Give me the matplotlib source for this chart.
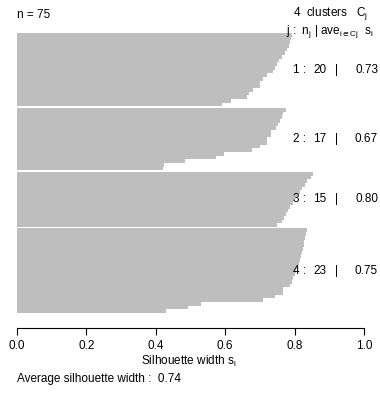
import numpy as np
import matplotlib
matplotlib.use("Agg")
import matplotlib.pyplot as plt
from matplotlib.transforms import blended_transform_factory

plt.rcParams['font.family'] = ['Liberation Sans', 'DejaVu Sans']
plt.rcParams['mathtext.fontset'] = 'custom'
plt.rcParams['mathtext.rm'] = 'Liberation Sans'
plt.rcParams['mathtext.it'] = 'Liberation Sans'
plt.rcParams['mathtext.fallback'] = 'cm'

# silhouette widths per cluster, sorted as drawn (top to bottom)
sil_c1 = [0.792, 0.790, 0.787, 0.783, 0.779, 0.772, 0.765, 0.756, 0.748, 0.744,
          0.739, 0.720, 0.708, 0.700, 0.700, 0.679, 0.668, 0.662, 0.616, 0.590]
sil_c2 = [0.774, 0.768, 0.763, 0.758, 0.752, 0.745, 0.731, 0.731, 0.720, 0.720,
          0.700, 0.676, 0.597, 0.573, 0.484, 0.425, 0.420]
sil_c3 = [0.854, 0.846, 0.835, 0.830, 0.822, 0.815, 0.808, 0.800, 0.795, 0.788,
          0.780, 0.775, 0.770, 0.763, 0.750]
sil_c4 = [0.835, 0.833, 0.830, 0.828, 0.826, 0.823, 0.820, 0.818, 0.815, 0.812,
          0.808, 0.805, 0.800, 0.796, 0.792, 0.787, 0.768, 0.768, 0.744, 0.710,
          0.530, 0.492, 0.428]
clusters = [sil_c1, sil_c2, sil_c3, sil_c4]
cluster_sizes = [20, 17, 15, 23]
cluster_means = ["0.73", "0.67", "0.80", "0.75"]
avg_width = "0.74"
n_obs = 75

W, H = 380, 397
fig = plt.figure(figsize=(W / 100, H / 100), dpi=100)

def px(x, y):
    return x / W, 1 - y / H

# axes spans x 0..1 -> px 17..364, bars from px 33..313
x0, x1, y0, y1 = 17, 364, 33, 313
ax = fig.add_axes([x0 / W, 1 - y1 / H, (x1 - x0) / W, (y1 - y0) / H])

gap = 0.4
pos = 0.0
centers = []
for vals in clusters:
    ys = pos + 0.5 + np.arange(len(vals))
    ax.barh(ys, vals, height=1.0, left=0, color='#bebebe', edgecolor='none', linewidth=0)
    centers.append(ys.mean())
    pos += len(vals) + gap
total = pos - gap

fs = 8.5
ax.set_xlim(0, 1)
ax.set_ylim(total, 0)
for s in ['top', 'right', 'left']:
    ax.spines[s].set_visible(False)
ax.spines['bottom'].set_position(('outward', 11))
ax.spines['bottom'].set_bounds(0, 1)
ax.spines['bottom'].set_linewidth(0.8)
ax.set_yticks([])
ax.set_xticks([0.0, 0.2, 0.4, 0.6, 0.8, 1.0])
ax.set_xticklabels(["0.0", "0.2", "0.4", "0.6", "0.8", "1.0"])
ax.tick_params(axis='x', direction='out', length=5, width=0.8, pad=3.5, labelsize=fs)

fig.text(*px(17, 15), "n = %d" % n_obs, fontsize=fs, ha='left', va='center')
fig.text(*px(368, 14), r"%d  clusters   $\mathregular{C_j}$" % len(clusters),
         fontsize=fs, ha='right', va='center')
fig.text(*px(374, 32), r"j :  $\mathregular{n_j}$ | $\mathregular{ave_{i\in Cj}}$  $\mathregular{s_i}$",
         fontsize=fs, ha='right', va='center')

tr = blended_transform_factory(fig.transFigure, ax.transData)
for k, c in enumerate(centers):
    fig.text(306 / W, c, "%d :" % (k + 1), fontsize=fs, ha='right', va='center', transform=tr)
    fig.text(320 / W, c, "%d" % cluster_sizes[k], fontsize=fs, ha='center', va='center', transform=tr)
    fig.text(337 / W, c, "|", fontsize=fs, ha='center', va='center', transform=tr)
    fig.text(378 / W, c, cluster_means[k], fontsize=fs, ha='right', va='center', transform=tr)

fig.text(*px(189, 361), r"Silhouette width $\mathregular{s_i}$", fontsize=fs, ha='center', va='center')
fig.text(*px(17, 379), "Average silhouette width :  %s" % avg_width, fontsize=fs, ha='left', va='center')

fig.savefig("out.png", dpi=100)
